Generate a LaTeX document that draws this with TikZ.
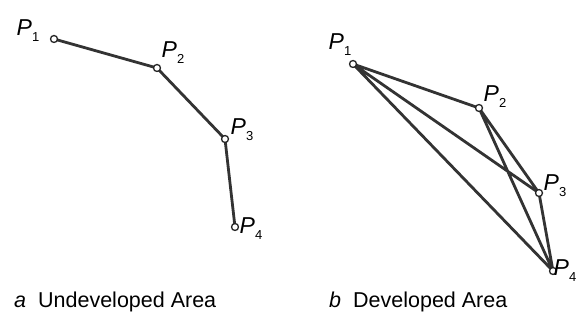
\documentclass[tikz,border=0pt]{standalone}
\usepackage{fontspec}
\setmainfont{Liberation Sans}
\newcommand{\sbx}[1]{\raisebox{-0.5ex}{\upshape\fontsize{13}{13}\selectfont #1}}
\begin{document}
\begin{tikzpicture}[x=1pt,y=-1pt,
  pt/.style={circle,draw=black!85,fill=white,line width=1.3pt,inner sep=0pt,minimum size=7pt},
  edge/.style={draw=black!80,line width=2.8pt},
  plabel/.style={font=\fontsize{23}{24}\selectfont\itshape,inner sep=0pt},
  captext/.style={font=\fontsize{21.5}{24}\selectfont,anchor=west,inner sep=0pt}]
\useasboundingbox (0,0) rectangle (576,328);
% left
\coordinate (a1) at (54,39);
\coordinate (a2) at (157,68);
\coordinate (a3) at (225,139);
\coordinate (a4) at (235,227);
\draw[edge] (a1) -- (a2) -- (a3) -- (a4);
\foreach \i in {1,...,4} \node[pt] (na\i) at (a\i) {};
\node[plabel] (la1) at (28,31) {P\sbx{1}};
\node[plabel] (la2) at (173,53) {P\sbx{2}};
\node[plabel] (la3) at (242,130) {P\sbx{3}};
\node[plabel] (la4) at (251,229) {P\sbx{4}};
% right
\coordinate (b1) at (353,64);
\coordinate (b2) at (479,108);
\coordinate (b3) at (539,193);
\coordinate (b4) at (553,271);
\draw[edge] (b1) -- (b2) (b1) -- (b3) (b1) -- (b4) (b2) -- (b3) (b2) -- (b4) (b3) -- (b4);
\foreach \i in {1,...,4} \node[pt] (nb\i) at (b\i) {};
\node[plabel] (lb1) at (340,45) {P\sbx{1}};
\node[plabel] (lb2) at (495,97) {P\sbx{2}};
\node[plabel] (lb3) at (555,186) {P\sbx{3}};
\node[plabel,anchor=east] (lb4) at (576.5,271) {P\sbx{4}};
% captions
\node[captext] (ca) at (14,302) {\textit{a}\hspace{12pt}Undeveloped Area};
\node[captext] (cb) at (329,302) {\textit{b}\hspace{12pt}Developed Area};
\end{tikzpicture}
\end{document}
